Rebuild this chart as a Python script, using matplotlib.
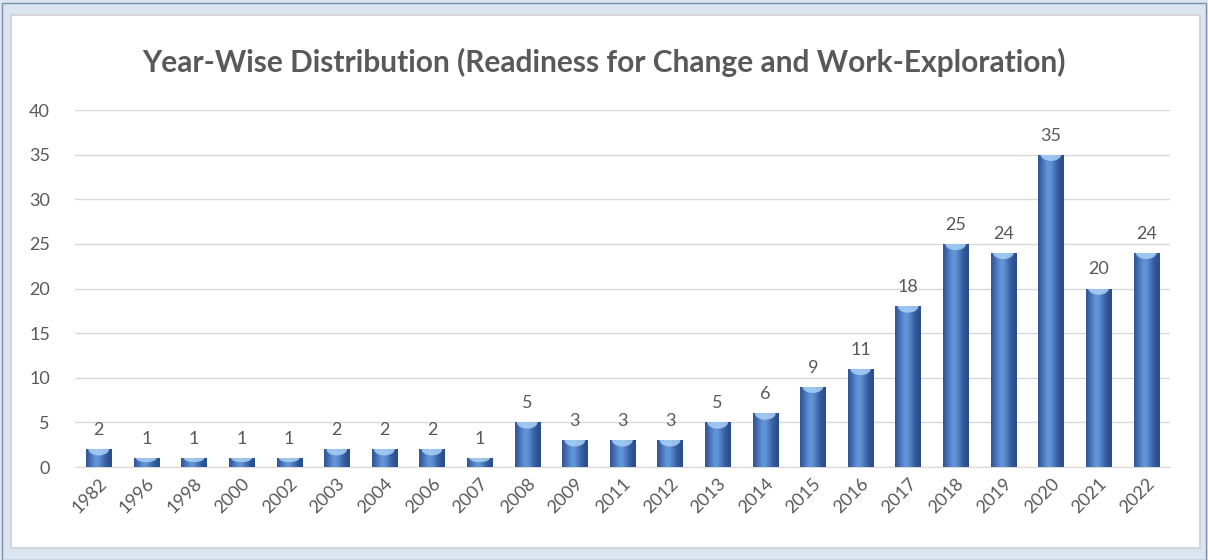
import numpy as np
import matplotlib.pyplot as plt
from matplotlib.patches import Rectangle, Ellipse

## chart data
YEARS = ['1982', '1996', '1998', '2000', '2002', '2003', '2004', '2006', '2007',
         '2008', '2009', '2011', '2012', '2013', '2014', '2015', '2016', '2017',
         '2018', '2019', '2020', '2021', '2022']
COUNTS = [2, 1, 1, 1, 1, 2, 2, 2, 1, 5, 3, 3, 3, 5, 6, 9, 11, 18, 25, 24, 35, 20, 24]
YTICKS = [0, 5, 10, 15, 20, 25, 30, 35, 40]

TITLE = 'Year-Wise Distribution (Readiness for Change and Work-Exploration)'
FONT = ['Lato', 'DejaVu Sans']
TEXT_GREY = '#595959'
BAR_WIDTH = 0.53

plt.rcParams['font.family'] = FONT

fig = plt.figure(figsize=(12.08, 5.6), dpi=100)
fig.patch.set_facecolor('#dbe5f1')
# white chart panel with grey frame (kept behind the axes)
fig.patches.append(Rectangle((0.009, 0.022), 0.984, 0.952, transform=fig.transFigure,
                             facecolor='white', edgecolor='#d0d0d0', lw=1.2, zorder=-2))
fig.patches.append(Rectangle((0.002, 0.0), 0.996, 0.995, transform=fig.transFigure,
                             facecolor='none', edgecolor='#7f8fa6', lw=1.0, zorder=-2))

ax = fig.add_axes([0.062, 0.166, 0.9065, 0.6375])
ax.set_zorder(2)
ax.set_facecolor('none')

x = np.arange(len(YEARS))
bars = ax.bar(x, COUNTS, width=BAR_WIDTH, color='#4472b4', edgecolor='none', zorder=2)

# horizontal gradient gives the cylinder look: dark edges, light band left of centre
g = np.linspace(0, 1, 64)
shade = np.exp(-((g - 0.42) / 0.30) ** 2)
img = np.zeros((1, 64, 3))
dark = np.array([0.16, 0.30, 0.55])
light = np.array([0.38, 0.58, 0.85])
for k in range(3):
    img[0, :, k] = dark[k] + (light[k] - dark[k]) * shade
for b in bars:
    x0, w, h = b.get_x(), b.get_width(), b.get_height()
    im = ax.imshow(img, extent=[x0, x0 + w, 0, h], aspect='auto', zorder=3,
                   interpolation='bicubic')
    im.set_clip_path(b)
    # lighter rounded top cap
    cap = Ellipse((x0 + w / 2, h), w * 0.82, min(1.4, h * 0.9),
                  facecolor='#a9d0f5', edgecolor='none', alpha=0.85, zorder=4)
    ax.add_patch(cap)
    cap.set_clip_path(b)

for xi, v in zip(x, COUNTS):
    ax.annotate(str(v), (xi, v), xytext=(0, 8), textcoords='offset points',
                ha='center', va='bottom', fontsize=13, color=TEXT_GREY)

ax.set_xlim(-0.5, len(YEARS) - 0.5)
ax.set_ylim(0, 40)
ax.set_yticks(YTICKS)
ax.set_xticks(x)
ax.set_xticklabels(YEARS, rotation=45, ha='right', rotation_mode='anchor')
ax.tick_params(axis='both', length=0, labelsize=13, labelcolor=TEXT_GREY)
ax.tick_params(axis='y', pad=18)
ax.tick_params(axis='x', pad=6)
ax.grid(axis='y', color='#d9d9d9', lw=1.0, zorder=0)
ax.set_axisbelow(True)
for s in ['top', 'right', 'left']:
    ax.spines[s].set_visible(False)
ax.spines['bottom'].set_color('#d9d9d9')

fig.text(0.5, 0.889, TITLE, ha='center', va='center', fontsize=21.5,
         fontweight='bold', color=TEXT_GREY)

fig.savefig('out.png', dpi=100, facecolor=fig.get_facecolor())
